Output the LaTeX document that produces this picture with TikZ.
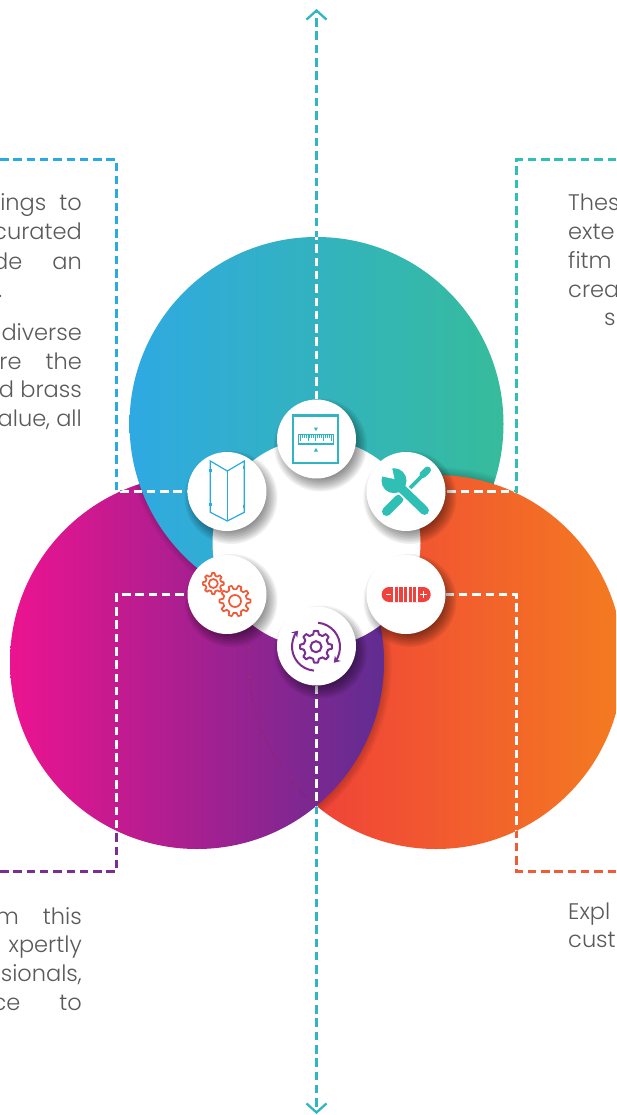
\documentclass[tikz,border=0pt]{standalone}
\usepackage{fontspec}
\setmainfont{Poppins Light}
\usetikzlibrary{arrows.meta,calc}
\definecolor{cblue}{HTML}{29ABE2}
\definecolor{cteal}{HTML}{2FB5C4}
\definecolor{cgreen}{HTML}{2FBFB4}
\definecolor{cpurple}{HTML}{7B2D91}
\definecolor{corange}{HTML}{F15A37}
\definecolor{ctext}{HTML}{5A5A5A}
\definecolor{gA}{RGB}{47,169,226}
\definecolor{gB}{RGB}{54,188,156}
\definecolor{gC}{RGB}{236,19,144}
\definecolor{gD}{RGB}{96,45,145}
\definecolor{gE}{RGB}{239,55,62}
\definecolor{gM}{RGB}{241,78,54}
\definecolor{gF}{RGB}{244,123,32}
\tikzset{
  dashline/.style={line width=2.4pt,dash pattern=on 8.5pt off 4.8pt},
  hub/.style={circle,fill=white,minimum size=79pt,inner sep=0pt},
  body/.style={font=\fontsize{22.5}{22.5}\selectfont,text=ctext,inner sep=0pt},
  lbody/.style={body,anchor=base east},
  rbody/.style={body,anchor=base west},
  icon/.style={line width=1.7pt,line join=round},
  vtip/.style={-{Straight Barb[length=9pt,width=20pt,line width=2.3pt]}},
}
\newcommand{\softshadow}[4]{%
  \foreach \k in {0,...,9}{
    \fill[black,opacity=#4] (#1,#2) circle ({#3+6-1.4*\k});
  }
}
% gear outline: cx cy Rout Rin N
\newcommand{\gearpath}[6]{%
  \pgfmathsetmacro{\gs}{360/#5}
  \draw[icon,#6] ($(#1,#2)+(0.3*\gs:#4)$)
    \foreach \i in {1,...,#5}{
      -- ($(#1,#2)+(\i*\gs-0.3*\gs:#4)$)
      -- ($(#1,#2)+(\i*\gs-0.16*\gs:#3)$)
      -- ($(#1,#2)+(\i*\gs+0.16*\gs:#3)$)
      -- ($(#1,#2)+(\i*\gs+0.3*\gs:#4)$)
    } -- cycle;
}
% coloured dashed connector, white where it lies over a big circle
\newcommand{\conn}[2]{%
  \draw[dashline,#1] #2;
  \begin{scope}\clip (436,662) circle (187);\draw[dashline,white] #2;\end{scope}
  \begin{scope}\clip (197,662) circle (187);\draw[dashline,white] #2;\end{scope}
  \begin{scope}\clip (316.5,424) circle (187);\draw[dashline,white] #2;\end{scope}
}
\begin{document}
\begin{tikzpicture}[x=1pt,y=-1pt]
\useasboundingbox (0,0) rectangle (616,1115);
\clip (0,0) rectangle (616,1115);
\fill[white] (0,0) rectangle (616,1115);
% big circles: each lies over the next one in a ring
\shade[left color=gC,right color=gD] (197,662) circle (187);
\begin{scope}\clip (197,662) circle (187);\softshadow{318}{426}{187}{0.03}\end{scope}
\shade[left color=gA,right color=gB] (316.5,424) circle (187);
\begin{scope}\clip (316.5,424) circle (187);\softshadow{435}{660}{187}{0.03}\end{scope}
\shade[left color=gE,middle color=gM,right color=gF] (436,662) circle (187);
\begin{scope}
  \clip (436,662) circle (187);
  \softshadow{199}{664}{187}{0.03}
  \shade[left color=gC,right color=gD] (197,662) circle (187);
\end{scope}
% hub positions
\coordinate (pT) at (316.5,439);
\coordinate (pUL) at (227,491.5);
\coordinate (pUR) at (406,491.5);
\coordinate (pLL) at (227,594.5);
\coordinate (pLR) at (406,594.5);
\coordinate (pB) at (316.5,646);
\coordinate (arrTop) at (316.5,9);
\coordinate (arrBot) at (316.5,1114);
\coordinate (c1) at (116.5,159.5);
\coordinate (c2) at (116.5,491.5);
\coordinate (c3) at (0,159.5);
\coordinate (c4) at (516.5,159.5);
\coordinate (c5) at (516.5,491.5);
\coordinate (c6) at (616,159.5);
\coordinate (c7) at (116.5,594.5);
\coordinate (c8) at (116.5,871.5);
\coordinate (c9) at (0,871.5);
\coordinate (c10) at (516.5,594.5);
\coordinate (c11) at (516.5,871.5);
\coordinate (c12) at (616,871.5);
% connectors
\conn{cblue}{(c3) -- (c1) -- (c2) -- (pUL)}
\conn{cgreen}{(c6) -- (c4) -- (c5) -- (pUR)}
\conn{cpurple}{(c9) -- (c8) -- (c7) -- (pLL)}
\conn{corange}{(c12) -- (c11) -- (c10) -- (pLR)}
\conn{cteal,vtip}{(pT) -- (arrTop)}
\conn{cteal,vtip}{(pB) -- (arrBot)}
% white centre
\node[circle,fill=white,minimum size=208pt,inner sep=0pt] (centre) at (316.5,543) {};
% hubs
\foreach \p in {pT,pUL,pUR,pLL,pLR,pB}{
  \path (\p) ++(4,6) coordinate (sh);
  \foreach \k in {0,...,9}{
    \fill[black,opacity=0.06] (sh) circle ({39.5+7-1.6*\k});
  }
}
\node[hub] (hT) at (pT) {};
\node[hub] (hUL) at (pUL) {};
\node[hub] (hUR) at (pUR) {};
\node[hub] (hLL) at (pLL) {};
\node[hub] (hLR) at (pLR) {};
\node[hub] (hB) at (pB) {};
% icon: ruler frame
\draw[cteal,line width=2.2pt] (292.8,415.5) rectangle (338,463);
\draw[cteal,line width=1.1pt] (298.5,434.5) rectangle (333.8,444);
\foreach \i in {0,...,16}{
  \pgfmathsetmacro{\xx}{300+\i*1.95}
  \pgfmathsetmacro{\yy}{ifthenelse(mod(\i,4)==0,440.5,437.8)}
  \draw[cteal,line width=0.6pt] (\xx,434.5) -- (\xx,\yy);
}
\fill[cteal] (313.8,427.5) -- (318,427.5) -- (315.9,431) -- cycle;
\fill[cteal] (313.8,451.5) -- (318,451.5) -- (315.9,448) -- cycle;
% icon: folding door
\draw[cblue,line width=1.2pt] (210.3,461) -- (227.3,471) -- (244.3,461) -- (244.3,512.3) -- (227.3,521) -- (210.3,512.3) -- cycle;
\draw[cblue,line width=1.2pt] (227.3,471) -- (227.3,521);
\fill[cblue] (208.8,468.5) rectangle (211.8,471.5);
\fill[cblue] (208.8,502.8) rectangle (211.8,505.8);
\fill[cblue] (242.8,466) rectangle (245,469);
\fill[cblue] (242.8,505) rectangle (245,508);
% icon: wrench and screwdriver
\draw[cgreen,line width=9pt,line cap=round] (386.5,511.5) -- (399,499);
\draw[cgreen,line width=3.6pt] (410,488) -- (423,475);
\draw[cgreen,line width=7pt,line cap=round] (423,474.5) -- (427.5,470);
\draw[white,line width=12pt] (396,483) -- (413,500);
\fill[cgreen] (394,480.7) circle (12.5);
\fill[white] (394.5,479) -- (380,476) -- (391,463) -- cycle;
\draw[cgreen,line width=8.8pt,line cap=round] (398,485) -- (424.5,510.5);
% icon: gears
\gearpath{213.3}{583.5}{10.5}{8}{8}{corange}
\draw[corange,line width=1.7pt] (213.3,583.5) circle (4.5);
\gearpath{235}{601}{15.5}{12}{10}{corange}
\draw[corange,line width=1.7pt] (235,601) circle (6);
% icon: pill
\fill[gE!70!corange,rounded corners=7.4pt] (381.7,587) rectangle (430.7,602);
\foreach \i in {0,...,5}{
  \fill[white] ({393.4+\i*4.55},587) rectangle ({394.9+\i*4.55},602);
}
\fill[white] (385.5,593.8) rectangle (390.5,595.4);
\fill[white] (420,593.9) rectangle (427,595.3);
\fill[white] (422.8,591) rectangle (424.2,598.2);
% icon: cycle gear
\gearpath{316}{646.7}{16}{12.5}{8}{cpurple,line width=2pt}
\draw[cpurple,line width=2pt] (316,646.7) circle (5.5);
\draw[cpurple,line width=2pt,-{Stealth[length=6pt,width=8pt]}] ($(316,646.7)+(-85:24)$) arc (-85:42:24);
\draw[cpurple,line width=2pt,-{Stealth[length=6pt,width=8pt]}] ($(316,646.7)+(95:24)$) arc (95:222:24);
% texts
\node[lbody] (l1) at (82,211) {ings\hspace{13pt}to};
\node[lbody] (l2) at (82,240) {curated};
\node[lbody] (l3) at (82,269) {de\hspace{30pt}an};
\node[body,anchor=base west] (l4) at (-2,297.7) {.};
\node[lbody] (l5) at (82,340) {diverse};
\node[lbody] (l6) at (82,369) {re\hspace{24pt}the};
\node[lbody] (l7) at (82,397) {d brass};
\node[lbody] (l8) at (82,426) {alue, all};
\node[rbody] (r1) at (568,211) {Thes};
\node[rbody] (r2) at (568,239.5) {exte};
\node[rbody] (r3) at (568,268.5) {fitm};
\node[rbody] (r4) at (568,297) {crea};
\node[rbody] (r5) at (604,325.5) {s};
\node[lbody] (b1) at (82,924) {m\hspace{24pt}this};
\node[lbody] (b2) at (82,952) {xpertly};
\node[lbody] (b3) at (82,981) {sionals,};
\node[lbody] (b4) at (82,1010) {ce\hspace{39pt}to};
\node[rbody] (b5) at (568,919) {Expl};
\node[rbody] (b6) at (568,947) {cust};
\end{tikzpicture}
\end{document}
